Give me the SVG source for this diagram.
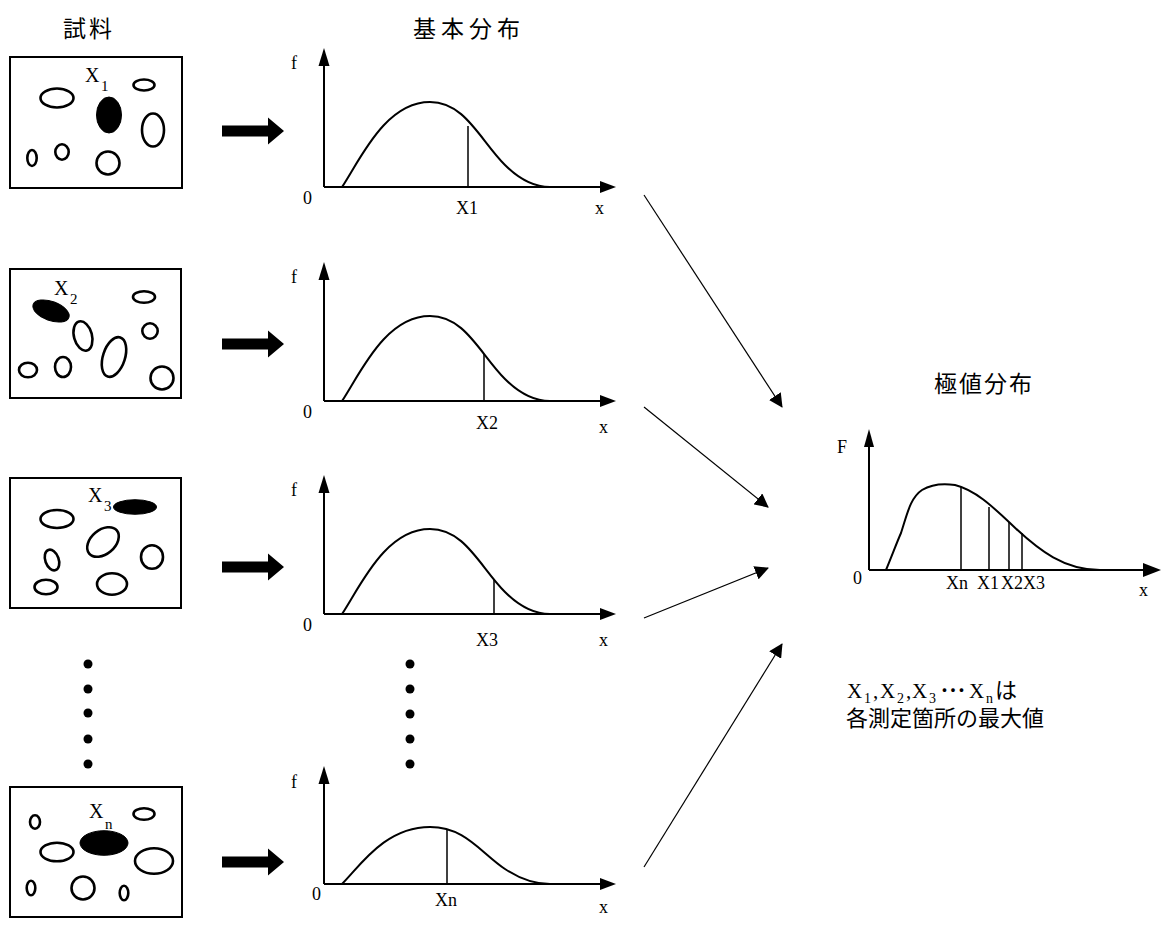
<svg xmlns="http://www.w3.org/2000/svg" width="1161" height="941" viewBox="0 0 1161 941">
<style>
.box{fill:#fff;stroke:#000;stroke-width:2}
.o{fill:none;stroke:#000;stroke-width:2.6}
.f{fill:#000;stroke:#000;stroke-width:1}
.ax{fill:none;stroke:#000;stroke-width:2}
.cv{fill:none;stroke:#000;stroke-width:2}
.vl{stroke:#000;stroke-width:1.5}
.con{stroke:#000;stroke-width:1.2;fill:none}
.lt{font-family:"Liberation Serif",serif;font-size:18px;fill:#000}
.lb{font-family:"Liberation Serif",serif;font-size:20px;fill:#000}
.sub{font-family:"Liberation Serif",serif;font-size:15px;fill:#000}
.jp{font-family:"Noto Sans CJK JP",sans-serif;font-size:23px;fill:#000}
.nt{font-family:"Liberation Serif",serif;font-size:21px;fill:#000}
.ns{font-family:"Liberation Serif",serif;font-size:14px;fill:#000}
.nj{font-family:"Noto Sans CJK JP",sans-serif;font-size:22px;fill:#000}
</style>
<defs>
<marker id="ah" markerWidth="14" markerHeight="14" viewBox="0 0 14 14" refX="13" refY="7" orient="auto" markerUnits="userSpaceOnUse">
<path d="M0,0 L14,7 L0,14 Z" fill="#000"/>
</marker>
<path id="bigArrow" d="M0,-5.5 L46,-5.5 L46,-13.5 L62,0 L46,13.5 L46,5.5 L0,5.5 Z"/>
</defs>
<rect width="1161" height="941" fill="#fff"/>

<g id="titles">
<text class="jp" x="63" y="37" letter-spacing="3">試料</text>
<text class="jp" x="413" y="37" letter-spacing="5">基本分布</text>
<text class="jp" x="934" y="392" letter-spacing="2">極値分布</text>
</g>

<g id="sample1">
<rect class="box" x="10" y="57" width="172" height="131"/>
<ellipse class="o" cx="57" cy="98" rx="16.5" ry="9.5"/>
<ellipse class="f" cx="109" cy="115" rx="12.5" ry="18"/>
<ellipse class="o" cx="144" cy="85" rx="10.5" ry="5.5"/>
<ellipse class="o" cx="153" cy="130" rx="11" ry="16.5"/>
<ellipse class="o" cx="32" cy="158" rx="4.7" ry="8"/>
<ellipse class="o" cx="62" cy="152" rx="6.7" ry="7.7"/>
<ellipse class="o" cx="108" cy="163" rx="11.5" ry="11.5"/>
<text class="lb" x="85" y="82">X</text><text class="sub" x="101" y="91">1</text>
</g>

<g id="sample2">
<rect class="box" x="10" y="269" width="171" height="129"/>
<ellipse class="f" cx="51" cy="311" rx="19" ry="9.5" transform="rotate(20 51 311)"/>
<ellipse class="o" cx="144" cy="297" rx="11" ry="5.7"/>
<ellipse class="o" cx="150" cy="331" rx="7.7" ry="7.7"/>
<ellipse class="o" cx="83" cy="336" rx="9" ry="15" transform="rotate(-15 83 336)"/>
<ellipse class="o" cx="114" cy="357" rx="11" ry="20.5" transform="rotate(18 114 357)"/>
<ellipse class="o" cx="28" cy="370" rx="9" ry="7.3"/>
<ellipse class="o" cx="63" cy="367" rx="8" ry="10"/>
<ellipse class="o" cx="162" cy="378" rx="11.5" ry="11.5"/>
<text class="lb" x="54" y="295">X</text><text class="sub" x="70" y="304">2</text>
</g>

<g id="sample3">
<rect class="box" x="10" y="478" width="171" height="130"/>
<ellipse class="f" cx="135" cy="507" rx="21.5" ry="7.3"/>
<ellipse class="o" cx="57" cy="519" rx="16.5" ry="9"/>
<ellipse class="o" cx="103" cy="542" rx="18" ry="12" transform="rotate(-40 103 542)"/>
<ellipse class="o" cx="52" cy="560" rx="6.7" ry="10.7" transform="rotate(-20 52 560)"/>
<ellipse class="o" cx="152" cy="557" rx="11" ry="11.7"/>
<ellipse class="o" cx="46" cy="587" rx="11.5" ry="7.3"/>
<ellipse class="o" cx="112" cy="584" rx="15" ry="10.7"/>
<text class="lb" x="88" y="502">X</text><text class="sub" x="104" y="511">3</text>
</g>

<g id="sampleN">
<rect class="box" x="10" y="787" width="172" height="130"/>
<ellipse class="o" cx="35" cy="822" rx="5" ry="6.7"/>
<ellipse class="o" cx="144" cy="814" rx="10.5" ry="5.7"/>
<ellipse class="o" cx="57" cy="852" rx="16.5" ry="9.3"/>
<ellipse class="f" cx="104" cy="843" rx="24" ry="12.3"/>
<ellipse class="o" cx="154" cy="861" rx="19" ry="12.7"/>
<ellipse class="o" cx="31" cy="888" rx="4.3" ry="7.3"/>
<ellipse class="o" cx="83" cy="888" rx="11.5" ry="11.5"/>
<ellipse class="o" cx="124" cy="893" rx="4.3" ry="7.3"/>
<text class="lb" x="89" y="818">X</text><text class="sub" x="105" y="829">n</text>
</g>

<g id="bigArrows" fill="#000">
<use href="#bigArrow" x="222" y="131"/>
<use href="#bigArrow" x="222" y="344"/>
<use href="#bigArrow" x="222" y="567"/>
<use href="#bigArrow" x="222" y="862"/>
</g>

<g id="dots" fill="#000">
<circle cx="88" cy="664" r="4.5"/><circle cx="88" cy="689" r="4.5"/><circle cx="88" cy="713" r="4.5"/><circle cx="88" cy="739" r="4.5"/><circle cx="88" cy="764" r="4.5"/>
<circle cx="410" cy="664" r="4.5"/><circle cx="410" cy="689" r="4.5"/><circle cx="410" cy="714" r="4.5"/><circle cx="410" cy="739" r="4.5"/><circle cx="410" cy="764" r="4.5"/>
</g>

<g id="chart1">
<path class="ax" d="M324,187 V62 M324,187 H602"/>
<path d="M324,48 L318.5,66 L329.5,66 Z"/>
<path d="M616,187 L600,181 L600,193 Z"/>
<path class="cv" d="M342,187 C360,160 385,102 430,102 C465,102 480,140 505,165 C520,180 535,187 550,187"/>
<line class="vl" x1="468" y1="126" x2="468" y2="187"/>
<text class="lt" x="291" y="69">f</text>
<text class="lt" x="303" y="204">0</text>
<text class="lt" x="456" y="214">X1</text>
<text class="lt" x="595" y="214">x</text>
</g>

<g id="chart2" transform="translate(0 214)">
<path class="ax" d="M324,187 V62 M324,187 H602"/>
<path d="M324,48 L318.5,66 L329.5,66 Z"/>
<path d="M616,187 L600,181 L600,193 Z"/>
<path class="cv" d="M342,187 C360,160 385,102 430,102 C465,102 480,140 505,165 C520,180 535,187 550,187"/>
<line class="vl" x1="484" y1="140" x2="484" y2="187"/>
<text class="lt" x="291" y="69">f</text>
<text class="lt" x="303" y="204">0</text>
<text class="lt" x="476" y="215">X2</text>
<text class="lt" x="599" y="219">x</text>
</g>

<g id="chart3" transform="translate(0 427)">
<path class="ax" d="M324,187 V62 M324,187 H602"/>
<path d="M324,48 L318.5,66 L329.5,66 Z"/>
<path d="M616,187 L600,181 L600,193 Z"/>
<path class="cv" d="M342,187 C360,160 385,102 430,102 C465,102 480,140 505,165 C520,180 535,187 550,187"/>
<line class="vl" x1="494" y1="153" x2="494" y2="187"/>
<text class="lt" x="291" y="69">f</text>
<text class="lt" x="303" y="204">0</text>
<text class="lt" x="476" y="219">X3</text>
<text class="lt" x="599" y="219">x</text>
</g>

<g id="chartN">
<path class="ax" d="M324,884 V780 M324,884 H602"/>
<path d="M324,766 L318.5,784 L329.5,784 Z"/>
<path d="M616,884 L600,878 L600,890 Z"/>
<path class="cv" d="M342,884 C360,866 385,827 430,827 C465,827 480,852 505,869 C520,879 535,884 550,884"/>
<line class="vl" x1="447" y1="829" x2="447" y2="884"/>
<text class="lt" x="291" y="788">f</text>
<text class="lt" x="312" y="900">0</text>
<text class="lt" x="435" y="906">Xn</text>
<text class="lt" x="599" y="913">x</text>
</g>

<g id="extremeChart">
<path class="ax" d="M869,570 V444 M869,570 H1146"/>
<path d="M869,429 L864,447 L874,447 Z"/>
<path d="M1161,570 L1143,563 L1143,577 Z"/>
<path class="cv" d="M886,570 C893,553 897,542 901,533 C907,515 910,498 922,490 C932,484 942,483 955,485 C975,490 992,506 1010,523 C1040,552 1065,570 1100,570"/>
<line class="vl" x1="961" y1="487" x2="961" y2="570"/>
<line class="vl" x1="989" y1="507" x2="989" y2="570"/>
<line class="vl" x1="1009" y1="522" x2="1009" y2="570"/>
<line class="vl" x1="1022" y1="533" x2="1022" y2="570"/>
<text class="lt" x="837" y="453">F</text>
<text class="lt" x="853" y="584">0</text>
<text class="lt" x="946" y="589">Xn</text>
<text class="lt" x="977" y="589">X1</text>
<text class="lt" x="1001" y="589">X2</text>
<text class="lt" x="1023" y="589">X3</text>
<text class="lt" x="1139" y="596">x</text>
</g>

<g id="note">
<text class="nt" x="847" y="698">X</text><text class="ns" x="864" y="703">1</text><text class="nt" x="873" y="698">,</text>
<text class="nt" x="880" y="698">X</text><text class="ns" x="897" y="703">2</text><text class="nt" x="906" y="698">,</text>
<text class="nt" x="912" y="698">X</text><text class="ns" x="929" y="703">3</text>
<text class="nj" x="939" y="698" textLength="28" lengthAdjust="spacing">･･･</text>
<text class="nt" x="969" y="698">X</text><text class="ns" x="986" y="703">n</text>
<text class="nj" x="995" y="698">は</text>
<text class="nj" x="846" y="726" font-size="23">各測定箇所の最大値</text>
</g>

<g id="connectors">
<line class="con" x1="644" y1="195" x2="782" y2="407" marker-end="url(#ah)"/>
<line class="con" x1="644" y1="407" x2="768" y2="507" marker-end="url(#ah)"/>
<line class="con" x1="644" y1="618" x2="768" y2="568" marker-end="url(#ah)"/>
<line class="con" x1="644" y1="867" x2="782" y2="644" marker-end="url(#ah)"/>
</g>
</svg>
